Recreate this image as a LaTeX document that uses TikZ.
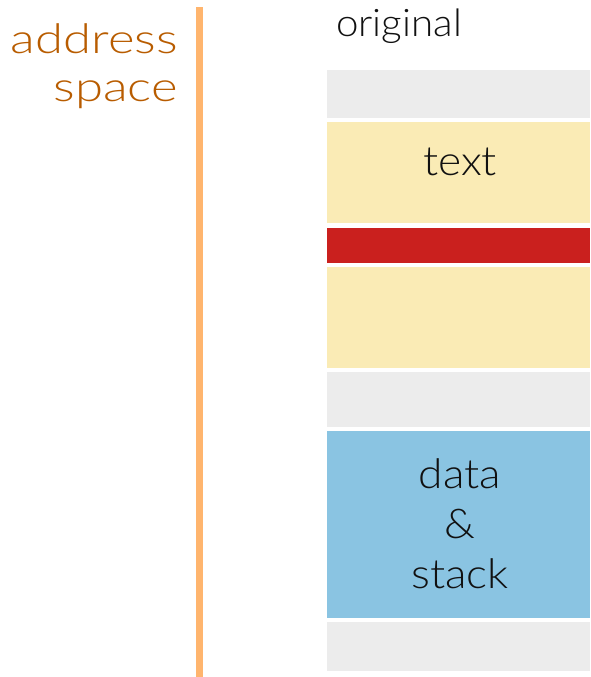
\documentclass[tikz,border=0pt]{standalone}
\usepackage{fontspec}
\setmainfont{Lato Light}
\newfontfamily\sidefont[FakeStretch=1.24]{Lato Light}
\newfontfamily\titlefont[FakeStretch=1.06]{Lato Light}
\newfontfamily\regionfont[FakeStretch=1.08]{Lato Light}
\begin{document}
\begin{tikzpicture}[x=1pt,y=-1pt,
  block/.style={draw=none,inner sep=0pt,minimum width=263pt,anchor=north west},
  label/.style={inner sep=0pt,text=ink,anchor=base,font=\regionfont\fontsize{41}{41}\selectfont},
  side/.style={inner sep=0pt,text=rust,anchor=base east,font=\sidefont\fontsize{41}{46}\selectfont}]
\definecolor{ink}{HTML}{111111}
\definecolor{rust}{HTML}{B85C00}
\definecolor{bar}{HTML}{FFB56E}
\definecolor{gap}{HTML}{ECECEC}
\definecolor{code}{HTML}{FAEBB5}
\definecolor{hot}{HTML}{CA201E}
\definecolor{heap}{HTML}{8AC4E2}
\useasboundingbox (0,0) rectangle (590,677);

% axis label and bar
\node[side] (addr) at (178,53) {address};
\node[side] (spc) at (178,101) {space};
\fill[bar] (195.5,7) rectangle (202.5,677);

% column title
\node[label,font=\titlefont\fontsize{38}{40}\selectfont] (orig) at (399,37) {original};

% memory regions, top to bottom
\node[block,fill=gap,minimum height=48pt] (r1) at (327,70) {};
\node[block,fill=code,minimum height=101pt] (r2) at (327,122) {};
\node[block,fill=hot,minimum height=35pt] (r3) at (327,228) {};
\node[block,fill=code,minimum height=101pt] (r4) at (327,267) {};
\node[block,fill=gap,minimum height=55pt] (r5) at (327,372) {};
\node[block,fill=heap,minimum height=187pt] (r6) at (327,431) {};
\node[block,fill=gap,minimum height=49pt] (r7) at (327,622) {};

% region labels
\node[label] (t1) at (460,175) {text};
\node[label] (t2) at (460,488) {data};
\node[label] (t3) at (460,538) {\&};
\node[label] (t4) at (460,588) {stack};
\end{tikzpicture}
\end{document}
